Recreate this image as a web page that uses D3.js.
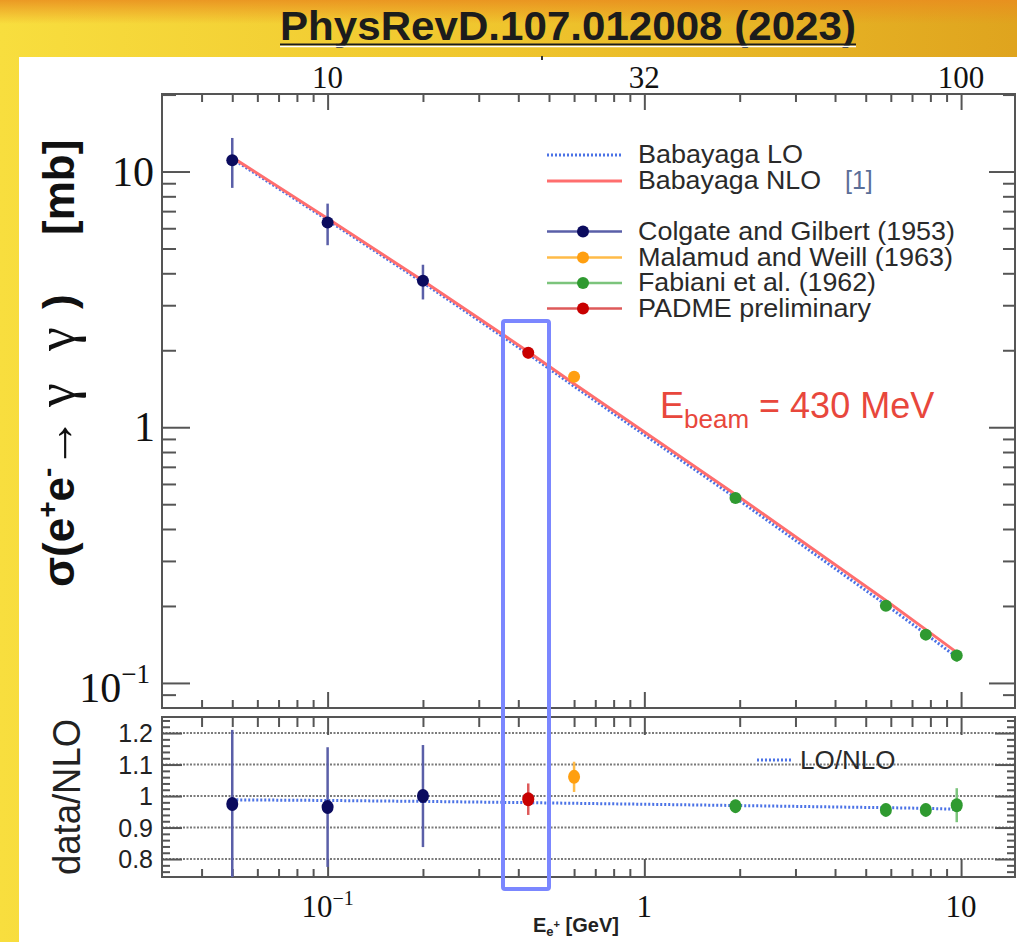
<html>
<head>
<script src="https://d3js.org/d3.v7.min.js"></script>
<style>
body {margin: 0; overflow: hidden;}
text {font-family: "Liberation Sans", Arial, sans-serif;}
.serif {font-family: "Liberation Serif", "Times New Roman", serif;}
</style>
</head>
<body>
<svg width=1017 height=942></svg>
<script>
// ---- data ----
// Colgate and Gilbert (1953)
var colgateE = [0.05, 0.1, 0.2];
var colgateXs = [11.08, 6.32, 3.74];
var colgateXsErr = [2.45, 1.17, 0.58];
var colgateRatio = [0.975, 0.965, 1.0];
var colgateRatioErr = [0.235, 0.19, 0.162];
// Malamud and Weill (1963)
var malamudE = [0.6];
var malamudXs = [1.575];
var malamudXsErr = [0.07];
var malamudRatio = [1.061];
var malamudRatioErr = [0.048];
// Fabiani et al. (1962)
var fabianiE = [1.94, 5.79, 7.74, 9.69];
var fabianiXs = [0.529, 0.2006, 0.1545, 0.1279];
var fabianiXsErr = [0.011, 0.004, 0.003, 0.007];
var fabianiRatio = [0.968, 0.956, 0.956, 0.971];
var fabianiRatioErr = [0.02, 0.02, 0.02, 0.054];
// PADME preliminary
var padmeE = [0.43];
var padmeXs = [1.955];
var padmeXsErr = [0.098];
var padmeRatio = [0.99];
var padmeRatioErr = [0.05];

// Babayaga curves
var curveE = [0.05, 0.1, 0.2, 0.43, 0.6, 1.94, 5.79, 7.74, 9.69];
var nloXs = [11.36, 6.55, 3.74, 1.975, 1.48, 0.546, 0.21, 0.1616, 0.1317];
var loXs = [11.22, 6.46, 3.68, 1.933, 1.446, 0.53, 0.2022, 0.1553, 0.1262];
var loOverNlo = [0.988, 0.986, 0.983, 0.979, 0.977, 0.97, 0.963, 0.961, 0.958];

// tick values / labels
var xMajor = [0.1, 1, 10];
var xMinor = [0.04, 0.05, 0.06, 0.07, 0.08, 0.09, 0.2, 0.3, 0.4, 0.5, 0.6, 0.7, 0.8, 0.9, 2, 3, 4, 5, 6, 7, 8, 9];
var topLabels = ["10", "32", "100"];
var yMajor = [0.1, 1, 10];
var yMinor = [0.09, 0.2, 0.3, 0.4, 0.5, 0.6, 0.7, 0.8, 0.9, 2, 3, 4, 5, 6, 7, 8, 9, 20];
var ratioMajor = [0.8, 0.9, 1, 1.1, 1.2];
var ratioLabels = ["0.8", "0.9", "1", "1.1", "1.2"];

var svg = d3.select("svg");

// ---- background slide ----
var defs = svg.append("defs");
var g1 = defs.append("linearGradient").attr("id", "bgH").attr("x1", 0).attr("x2", 1).attr("y1", 0).attr("y2", 0);
g1.append("stop").attr("offset", 0).attr("stop-color", "#f8de3e");
g1.append("stop").attr("offset", 0.5).attr("stop-color", "#efc52d");
g1.append("stop").attr("offset", 1).attr("stop-color", "#dfa41e");
var g2 = defs.append("linearGradient").attr("id", "bgV").attr("x1", 0).attr("x2", 0).attr("y1", 0).attr("y2", 1);
g2.append("stop").attr("offset", 0).attr("stop-color", "#e98d1f").attr("stop-opacity", 0.85);
g2.append("stop").attr("offset", 1).attr("stop-color", "#e98d1f").attr("stop-opacity", 0);

svg.append("rect").attr("width", 1017).attr("height", 942).attr("fill", "url(#bgH)");
svg.append("rect").attr("width", 1017).attr("height", 24).attr("fill", "url(#bgV)");
svg.append("rect").attr("x", 19).attr("y", 57).attr("width", 998).attr("height", 885).attr("fill", "white");

// title
svg.append("text").attr("x", 280).attr("y", 40)
    .attr("font-size", 40).attr("font-weight", "bold").attr("fill", "#1c1c1c")
    .attr("textLength", 576).attr("lengthAdjust", "spacingAndGlyphs")
    .text("PhysRevD.107.012008 (2023)");
svg.append("line").attr("x1", 280).attr("x2", 856).attr("y1", 44.5).attr("y2", 44.5)
    .attr("stroke", "#1c1c1c").attr("stroke-width", 2);
svg.append("line").attr("x1", 280).attr("x2", 856).attr("y1", 46.5).attr("y2", 46.5)
    .attr("stroke", "white").attr("stroke-width", 1.5);
svg.append("rect").attr("x", 541).attr("y", 56).attr("width", 2).attr("height", 4).attr("fill", "#333");

// ---- scales ----
var x = d3.scaleLog().domain([0.03, 14.8]).range([162, 1015]);
var y = d3.scaleLog().domain([0.0798, 20.1]).range([708, 94]);
var yr = d3.scaleLinear().domain([0.743, 1.251]).range([877, 717]);

var frameCol = "#555";

function ticks(axisFn, scale, vals, size, tx, ty) {
    var g = svg.append("g").attr("transform", "translate(" + tx + "," + ty + ")")
        .call(axisFn(scale).tickValues(vals).tickSize(size).tickFormat(""));
    g.select(".domain").remove();
    g.selectAll("line").attr("stroke", frameCol).attr("stroke-width", 2);
}

// ratio grid
ratioMajor.forEach(function(v) {
    svg.append("line").attr("x1", 162).attr("x2", 1015).attr("y1", yr(v)).attr("y2", yr(v))
        .attr("stroke", "#7a7a7a").attr("stroke-width", 2).attr("stroke-dasharray", "2,1.5");
});

// frames
svg.append("rect").attr("x", 162).attr("y", 94).attr("width", 853).attr("height", 614)
    .attr("fill", "none").attr("stroke", frameCol).attr("stroke-width", 2);
svg.append("rect").attr("x", 162).attr("y", 717).attr("width", 853).attr("height", 160)
    .attr("fill", "none").attr("stroke", frameCol).attr("stroke-width", 2);

// main panel ticks
ticks(d3.axisTop, x, xMinor, 8, 0, 708);
ticks(d3.axisTop, x, xMajor, 16, 0, 708);
ticks(d3.axisBottom, x, xMinor, 8, 0, 94);
ticks(d3.axisBottom, x, xMajor, 16, 0, 94);
ticks(d3.axisRight, y, yMinor, 14, 162, 0);
ticks(d3.axisRight, y, yMajor, 28, 162, 0);
ticks(d3.axisLeft, y, yMinor, 12, 1015, 0);
ticks(d3.axisLeft, y, yMajor, 26, 1015, 0);

// ratio panel ticks
var rMinor = d3.range(76, 126, 2).map(function(v) { return v / 100; })
    .filter(function(v) { return v > 0.743 && v < 1.251 && Math.round(v * 100) % 10 != 0; });
ticks(d3.axisBottom, x, xMinor, 10, 0, 717);
ticks(d3.axisBottom, x, xMajor, 18, 0, 717);
ticks(d3.axisTop, x, xMinor, 8, 0, 877);
ticks(d3.axisTop, x, xMajor, 18, 0, 877);
ticks(d3.axisRight, yr, rMinor, 8, 162, 0);
ticks(d3.axisRight, yr, ratioMajor, 20, 162, 0);
ticks(d3.axisLeft, yr, rMinor, 8, 1015, 0);
ticks(d3.axisLeft, yr, ratioMajor, 20, 1015, 0);

// ---- axis labels ----
topLabels.forEach(function(t, i) {
    svg.append("text").attr("class", "serif").attr("x", x(xMajor[i])).attr("y", 88)
        .attr("text-anchor", "middle").attr("font-size", 31).attr("fill", "#111").text(t);
});
var bl = svg.append("text").attr("class", "serif").attr("x", x(0.1)).attr("y", 917)
    .attr("text-anchor", "middle").attr("font-size", 31).attr("fill", "#111");
bl.append("tspan").text("10");
bl.append("tspan").attr("dy", -12).attr("font-size", 20).text("\u22121");
svg.append("text").attr("class", "serif").attr("x", x(1)).attr("y", 917)
    .attr("text-anchor", "middle").attr("font-size", 31).attr("fill", "#111").text("1");
svg.append("text").attr("class", "serif").attr("x", x(10)).attr("y", 917)
    .attr("text-anchor", "middle").attr("font-size", 31).attr("fill", "#111").text("10");

svg.append("text").attr("class", "serif").attr("x", 154).attr("y", y(10) + 14)
    .attr("text-anchor", "end").attr("font-size", 42).attr("fill", "#111").text("10");
svg.append("text").attr("class", "serif").attr("x", 155).attr("y", y(1) + 14)
    .attr("text-anchor", "end").attr("font-size", 42).attr("fill", "#111").text("1");
var yl = svg.append("text").attr("class", "serif").attr("x", 150).attr("y", y(0.1) + 19)
    .attr("text-anchor", "end").attr("font-size", 42).attr("fill", "#111");
yl.append("tspan").text("10");
yl.append("tspan").attr("dy", -19).attr("font-size", 27).text("\u22121");

ratioMajor.forEach(function(v, i) {
    svg.append("text").attr("x", 153).attr("y", yr(v) + 9)
        .attr("text-anchor", "end").attr("font-size", 25).attr("fill", "#222").text(ratioLabels[i]);
});

// y titles (ROOT latex spacing, pieces placed along the rotated baseline)
var yt = svg.append("text").attr("transform", "translate(74,587) rotate(-90)")
    .attr("font-size", 44).attr("font-weight", "bold").attr("fill", "#111");
yt.append("tspan").attr("x", 0).text("\u03c3(e");
yt.append("tspan").attr("dy", -17).attr("font-size", 28).text("+");
yt.append("tspan").attr("dy", 17).text("e");
yt.append("tspan").attr("dy", -17).attr("font-size", 28).text("-");
yt.append("tspan").attr("dy", 17).attr("x", 118).attr("class", "serif").attr("font-weight", "normal")
    .attr("font-size", 52).text("\u2192");
yt.append("tspan").attr("x", 180).attr("class", "serif").attr("font-weight", "normal")
    .attr("font-size", 54).text("\u03b3");
yt.append("tspan").attr("x", 236).attr("class", "serif").attr("font-weight", "normal")
    .attr("font-size", 54).text("\u03b3");
yt.append("tspan").attr("x", 278).text(")");
yt.append("tspan").attr("x", 352).text("[mb]");

svg.append("text").attr("transform", "translate(80,797) rotate(-90)")
    .attr("text-anchor", "middle").attr("font-size", 38).attr("fill", "#222")
    .attr("textLength", 156).attr("lengthAdjust", "spacingAndGlyphs").text("data/NLO");

var xt = svg.append("text").attr("x", 533).attr("y", 932).attr("font-size", 20)
    .attr("font-weight", "bold").attr("fill", "#222");
xt.append("tspan").text("E");
xt.append("tspan").attr("dy", 4).attr("font-size", 13).text("e");
xt.append("tspan").attr("dy", -8).attr("font-size", 11).text("+");
xt.append("tspan").attr("dy", 4).text(" [GeV]");

// ---- curves ----
var line = d3.line().x(function(d) { return x(d[0]); }).y(function(d) { return y(d[1]); });
svg.append("path").datum(d3.zip(curveE, loXs)).attr("d", line)
    .attr("fill", "none").attr("stroke", "#4b72e6").attr("stroke-width", 3).attr("stroke-dasharray", "2,2");
svg.append("path").datum(d3.zip(curveE, nloXs)).attr("d", line)
    .attr("fill", "none").attr("stroke", "#ff6e6e").attr("stroke-width", 3);

var rline = d3.line().x(function(d) { return x(d[0]); }).y(function(d) { return yr(d[1]); });
svg.append("path").datum(d3.zip(curveE, loOverNlo)).attr("d", rline)
    .attr("fill", "none").attr("stroke", "#4b72e6").attr("stroke-width", 3).attr("stroke-dasharray", "2,2");

// ---- data series ----
var series = [
    {name: "Colgate and Gilbert (1953)", e: colgateE, xs: colgateXs, xe: colgateXsErr, r: colgateRatio, re: colgateRatioErr, mk: "#0b0b5e", ln: "#5a5fa8"},
    {name: "Malamud and Weill (1963)", e: malamudE, xs: malamudXs, xe: malamudXsErr, r: malamudRatio, re: malamudRatioErr, mk: "#ff9f10", ln: "#ffbb48"},
    {name: "Fabiani et al. (1962)", e: fabianiE, xs: fabianiXs, xe: fabianiXsErr, r: fabianiRatio, re: fabianiRatioErr, mk: "#2f9a30", ln: "#7cc47c"},
    {name: "PADME preliminary", e: padmeE, xs: padmeXs, xe: padmeXsErr, r: padmeRatio, re: padmeRatioErr, mk: "#c80000", ln: "#de5a5a"}
];

series.forEach(function(s) {
    var pts = d3.range(s.e.length).map(function(i) {
        return {e: s.e[i], xs: s.xs[i], xe: s.xe[i], r: s.r[i], re: s.re[i]};
    });
    var g = svg.append("g");
    g.selectAll(".eb").data(pts).enter().append("line")
        .attr("x1", function(d) { return x(d.e); }).attr("x2", function(d) { return x(d.e); })
        .attr("y1", function(d) { return y(d.xs + d.xe); }).attr("y2", function(d) { return y(d.xs - d.xe); })
        .attr("stroke", s.ln).attr("stroke-width", 2.5);
    g.selectAll(".rb").data(pts).enter().append("line")
        .attr("x1", function(d) { return x(d.e); }).attr("x2", function(d) { return x(d.e); })
        .attr("y1", function(d) { return Math.max(717, yr(d.r + d.re)); })
        .attr("y2", function(d) { return Math.min(877, yr(d.r - d.re)); })
        .attr("stroke", s.ln).attr("stroke-width", 2.5);
    g.selectAll(".m").data(pts).enter().append("circle")
        .attr("cx", function(d) { return x(d.e); }).attr("cy", function(d) { return y(d.xs); })
        .attr("r", 6).attr("fill", s.mk);
    g.selectAll(".mr").data(pts).enter().append("ellipse")
        .attr("cx", function(d) { return x(d.e); }).attr("cy", function(d) { return yr(d.r); })
        .attr("rx", 6).attr("ry", 7).attr("fill", s.mk);
});

// ---- legend ----
var legX0 = 547, legX1 = 622, legTx = 638;
svg.append("line").attr("x1", legX0).attr("x2", legX1).attr("y1", 155).attr("y2", 155)
    .attr("stroke", "#4b72e6").attr("stroke-width", 3).attr("stroke-dasharray", "2,2");
svg.append("line").attr("x1", legX0).attr("x2", legX1).attr("y1", 181).attr("y2", 181)
    .attr("stroke", "#ff6e6e").attr("stroke-width", 3);
svg.append("text").attr("x", legTx).attr("y", 163).attr("font-size", 26).attr("fill", "#2a2a2a")
    .attr("textLength", 165).attr("lengthAdjust", "spacingAndGlyphs").text("Babayaga LO");
svg.append("text").attr("x", legTx).attr("y", 189).attr("font-size", 26).attr("fill", "#2a2a2a")
    .attr("textLength", 183).attr("lengthAdjust", "spacingAndGlyphs").text("Babayaga NLO");
svg.append("text").attr("x", 845).attr("y", 189).attr("font-size", 25).attr("fill", "#5a6e98").text("[1]");

var legY = [231.5, 257.5, 283, 308.5];
var legW = [317, 315, 238, 233];
series.forEach(function(s, i) {
    svg.append("line").attr("x1", legX0).attr("x2", legX1).attr("y1", legY[i]).attr("y2", legY[i])
        .attr("stroke", s.ln).attr("stroke-width", 2.5);
    svg.append("circle").attr("cx", 583).attr("cy", legY[i]).attr("r", 6).attr("fill", s.mk);
    svg.append("text").attr("x", legTx).attr("y", legY[i] + 8).attr("font-size", 26)
        .attr("textLength", legW[i]).attr("lengthAdjust", "spacingAndGlyphs")
        .attr("fill", "#2a2a2a").text(s.name);
});

svg.append("line").attr("x1", 757).attr("x2", 793).attr("y1", 760).attr("y2", 760)
    .attr("stroke", "#4b72e6").attr("stroke-width", 3).attr("stroke-dasharray", "2,2");
svg.append("text").attr("x", 800).attr("y", 769).attr("font-size", 26).attr("fill", "#2a2a2a").text("LO/NLO");

// E_beam annotation
var eb = svg.append("text").attr("x", 660).attr("y", 418).attr("font-size", 36).attr("fill", "#e8473c");
eb.append("tspan").text("E");
eb.append("tspan").attr("dy", 10).attr("font-size", 26).text("beam");
eb.append("tspan").attr("dy", -10).text(" = 430 MeV");

// highlight box around PADME point
svg.append("rect").attr("x", 503).attr("y", 321).attr("width", 46).attr("height", 568).attr("rx", 2)
    .attr("fill", "none").attr("stroke", "#7b87ff").attr("stroke-width", 4);
</script>
</body>
</html>
